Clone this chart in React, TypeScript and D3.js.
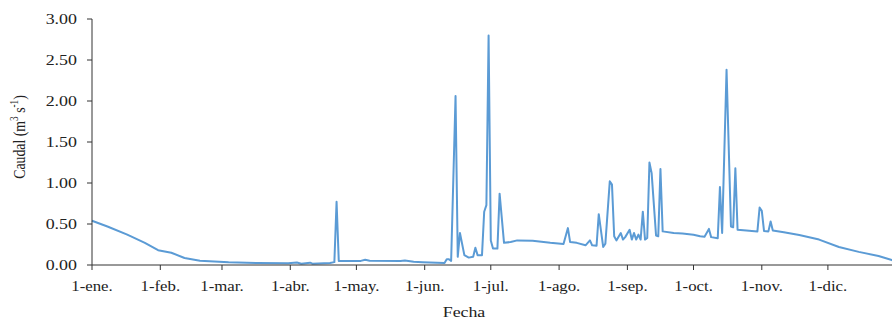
import React from "react";
import * as d3 from "d3";

// day of year (0 = 1 Jan) and discharge
const days = [
  0, 7, 16, 24, 30, 36, 42, 49, 62, 75, 89, 93, 95, 99, 100, 108, 110, 111, 112,
  122, 124, 126, 140, 142, 146, 150, 160, 161, 162, 163, 165, 166, 167, 169, 171,
  173, 174, 175, 177, 178, 179, 180, 181, 182, 184, 185, 187, 190, 193, 200, 208,
  214, 216, 217, 220, 224, 226, 227, 229, 230, 232, 233, 235, 236, 237, 238, 240,
  241, 242, 244, 245, 246, 247, 248, 249, 250, 251, 252, 253, 254, 256, 257, 258,
  259, 264, 268, 273, 276, 278, 280, 281, 284, 285, 286, 288, 290, 291, 292, 293,
  297, 302, 303, 304, 305, 307, 308, 309, 314, 321, 330, 339, 348, 357, 363, 364,
];
const caudal = [
  0.54, 0.47, 0.37, 0.27, 0.18, 0.15, 0.085, 0.053, 0.033, 0.025, 0.022, 0.03, 0.015, 0.028, 0.016, 0.025, 0.035, 0.77, 0.05,
  0.05, 0.065, 0.052, 0.05, 0.056, 0.04, 0.035, 0.025, 0.07, 0.07, 0.05, 2.06, 0.1, 0.39, 0.12, 0.09,
  0.1, 0.21, 0.12, 0.12, 0.65, 0.73, 2.8, 0.3, 0.2, 0.2, 0.87, 0.27, 0.28, 0.3, 0.295, 0.27,
  0.255, 0.45, 0.28, 0.27, 0.24, 0.3, 0.24, 0.235, 0.62, 0.22, 0.26, 1.02, 0.98, 0.35, 0.3, 0.39,
  0.31, 0.34, 0.43, 0.31, 0.39, 0.31, 0.37, 0.31, 0.65, 0.31, 0.33, 1.25, 1.12, 0.36, 0.35, 1.17,
  0.41, 0.39, 0.385, 0.37, 0.35, 0.345, 0.44, 0.34, 0.325, 0.95, 0.39, 2.38, 0.47, 0.46, 1.18, 0.43,
  0.42, 0.41, 0.7, 0.66, 0.415, 0.41, 0.53, 0.42, 0.4, 0.365, 0.31, 0.22, 0.16, 0.11, 0.06, 0.05,
];
const monthLabels = [
  "1-ene.", "1-feb.", "1-mar.", "1-abr.", "1-may.", "1-jun.",
  "1-jul.", "1-ago.", "1-sep.", "1-oct.", "1-nov.", "1-dic.",
];
const yTicks = [0, 0.5, 1, 1.5, 2, 2.5, 3];

const W = 892;
const H = 320;
const start = new Date(2019, 0, 1);
const end = new Date(2019, 11, 31);

export default function App() {
  const x = d3.scaleTime().domain([start, end]).range([92, 894]);
  const y = d3.scaleLinear().domain([0, 3]).range([265, 19]);

  const pts = days.map((d, i) => ({ date: d3.timeDay.offset(start, d), v: caudal[i] }));
  const line = d3
    .line<{ date: Date; v: number }>()
    .x((d) => x(d.date))
    .y((d) => y(d.v));

  const months = d3.timeMonth.range(start, end);
  const font = "'Liberation Serif', 'Times New Roman', serif";

  return (
    <div style={{ position: "absolute", left: 0, top: 0 }}>
      <svg width={W} height={H} style={{ display: "block", background: "#fff" }} fontFamily={font}>
        <path d={line(pts) ?? ""} fill="none" stroke="#5b9bd5" strokeWidth={2} strokeLinejoin="round" />

        {/* y axis */}
        <line x1={92} x2={92} y1={y(3)} y2={y(0)} stroke="#333" />
        {yTicks.map((t) => (
          <g key={t}>
            <line x1={87} x2={92} y1={y(t)} y2={y(t)} stroke="#333" />
            <text
              transform={`translate(77,${y(t) + 4.6}) scale(1.12,0.85)`}
              textAnchor="end"
              fontSize={16}
              fill="#222"
            >
              {t.toFixed(2)}
            </text>
          </g>
        ))}

        {/* x axis */}
        <line x1={92} x2={W} y1={y(0)} y2={y(0)} stroke="#333" />
        {months.map((m, i) => (
          <g key={i}>
            <line x1={x(m)} x2={x(m)} y1={y(0)} y2={y(0) + 5} stroke="#333" />
            <text
              transform={`translate(${x(m)},290.5) scale(1.05,0.85)`}
              textAnchor="middle"
              fontSize={16}
              fill="#222"
            >
              {monthLabels[i]}
            </text>
          </g>
        ))}

        <text transform="translate(464,317) scale(1.05,0.85)" textAnchor="middle" fontSize={17} fill="#222">
          Fecha
        </text>
        <text transform="translate(25,137) rotate(-90) scale(0.92,1.15)" textAnchor="middle" fontSize={15} fill="#222">
          Caudal (m
          <tspan fontSize={10} dy={-6}>3</tspan>
          <tspan dy={6}> s</tspan>
          <tspan fontSize={10} dy={-6}>-1</tspan>
          <tspan dy={6}>)</tspan>
        </text>
      </svg>
    </div>
  );
}
